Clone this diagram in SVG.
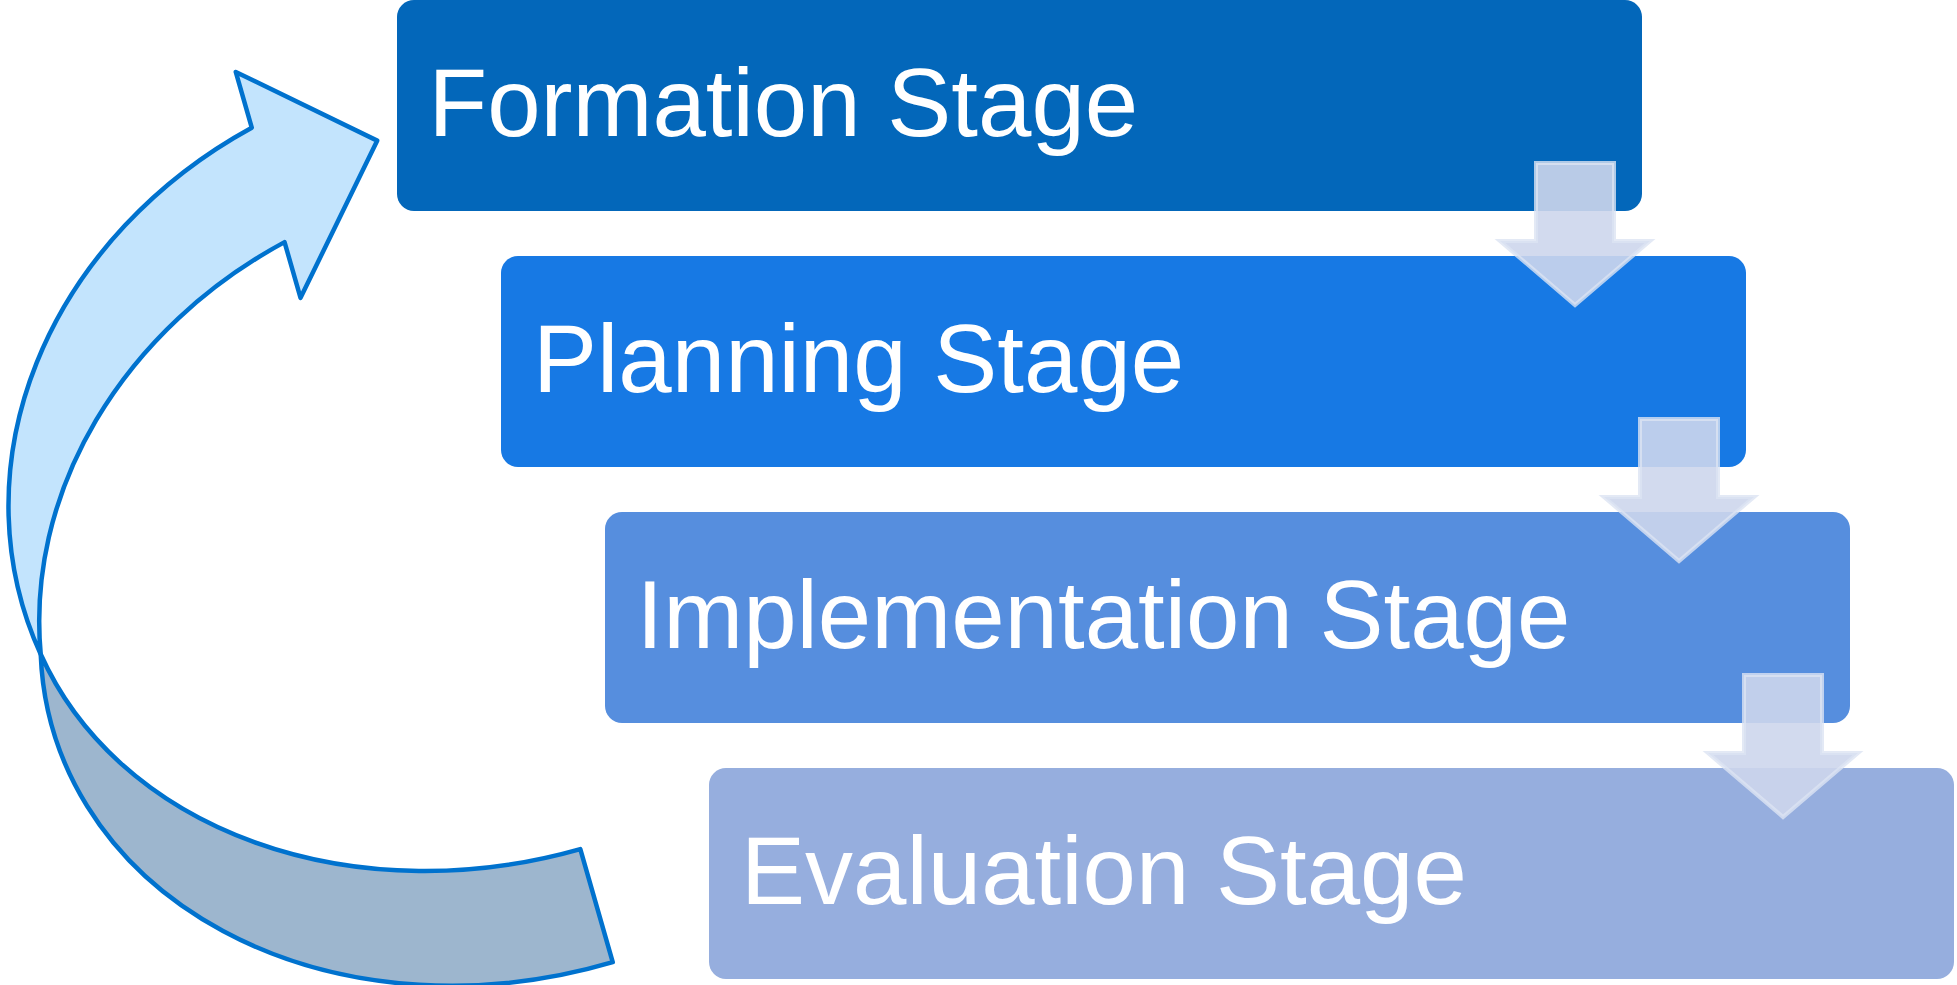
<svg xmlns="http://www.w3.org/2000/svg" xmlns:xlink="http://www.w3.org/1999/xlink" width="1957" height="985" viewBox="0 0 1957 985">
  <style>
    .lbl { font-family: "Liberation Sans", Arial, sans-serif; font-size: 96px; fill: #FFFFFF; }
    .loop { stroke: #0072CE; stroke-width: 4.5; stroke-linejoin: round; }
    .down { fill: rgb(205,214,236); fill-opacity: 0.9; stroke: #DCE3F3; stroke-opacity: 0.8; stroke-width: 4; stroke-linejoin: miter; }
  </style>
  <defs>
    <path id="downArrow" d="M1536,163 L1614,163 L1614,241 L1650,241 L1575,305 L1500,241 L1536,241 Z"/>
  </defs>
  <rect width="1957" height="985" fill="#FFFFFF"/>

  <g id="node-formation">
    <rect x="397" y="0" width="1245" height="211" rx="17" fill="#0367BA"/>
    <text class="lbl" x="428.5" y="136">Formation Stage</text>
  </g>
  <g id="node-planning">
    <rect x="501" y="256" width="1245" height="211" rx="17" fill="#1779E4"/>
    <text class="lbl" x="533" y="392">Planning Stage</text>
  </g>
  <g id="node-implementation">
    <rect x="605" y="512" width="1245" height="211" rx="17" fill="#568EDE"/>
    <text class="lbl" x="636.5" y="648">Implementation Stage</text>
  </g>
  <g id="node-evaluation">
    <rect x="709" y="768" width="1245" height="211" rx="17" fill="#96AEDE"/>
    <text class="lbl" x="741" y="904">Evaluation Stage</text>
  </g>

  <g id="connectors">
    <use xlink:href="#downArrow" href="#downArrow" class="down"/>
    <use xlink:href="#downArrow" href="#downArrow" class="down" transform="translate(104,256)"/>
    <use xlink:href="#downArrow" href="#downArrow" class="down" transform="translate(208,512)"/>
    <g id="loop-arrow" transform="rotate(-16 300 530)">
      <path class="loop" fill="#9DB6CE" d="M16.5,578 A469.5,379.5 0 0 0 481.5,1031.6 L481.5,914 A469.5,379.5 0 0 1 16.5,578 Z"/>
      <path class="loop" fill="#C3E4FD" d="M364.5,130 L364.5,72 L481.5,177 L364.5,307 L364.5,249 A469.5,408 0 0 0 16.5,578 A469.5,408 0 0 1 364.5,130 Z"/>
    </g>
  </g>
</svg>
